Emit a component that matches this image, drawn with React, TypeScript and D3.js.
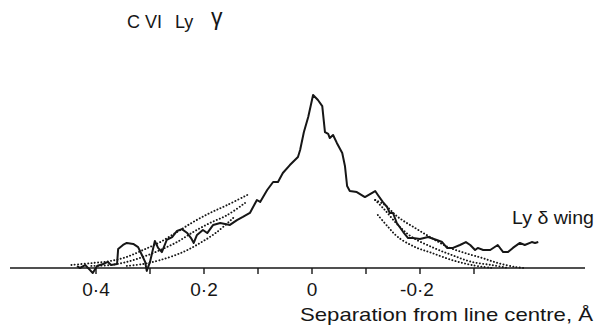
import React from "react";
import * as d3 from "d3";

// Separation from line centre (Å, positive to the left) and relative intensity
const traceSep = [0.435,0.430,0.420,0.411,0.406,0.398,0.387,0.378,0.372,0.361,0.359,0.350,0.343,0.331,0.322,0.315,0.309,0.306,0.300,0.291,0.285,0.278,0.269,0.259,0.250,0.241,0.231,0.224,0.219,0.213,0.202,0.194,0.183,0.170,0.152,0.139,0.128,0.115,0.102,0.096,0.083,0.072,0.063,0.054,0.041,0.026,0.022,0.015,0.007,-0.002,-0.011,-0.019,-0.024,-0.030,-0.033,-0.039,-0.046,-0.056,-0.061,-0.065,-0.070,-0.083,-0.098,-0.117,-0.122,-0.131,-0.139,-0.144,-0.150,-0.157,-0.169,-0.178,-0.187,-0.200,-0.215,-0.231,-0.241,-0.250,-0.261,-0.274,-0.285,-0.293,-0.302,-0.307,-0.317,-0.330,-0.344,-0.354,-0.363,-0.372,-0.385,-0.394,-0.407,-0.413,-0.419];
const traceInt = [0.012,0.000,0.017,-0.012,-0.029,0.012,0.023,0.035,0.017,0.023,0.110,0.133,0.145,0.139,0.121,0.075,0.035,-0.017,0.035,0.156,0.116,0.092,0.162,0.179,0.214,0.225,0.202,0.173,0.145,0.191,0.220,0.202,0.249,0.260,0.249,0.277,0.295,0.318,0.393,0.382,0.451,0.497,0.497,0.549,0.595,0.642,0.682,0.786,0.873,1.000,0.971,0.936,0.786,0.775,0.751,0.769,0.723,0.665,0.590,0.474,0.445,0.439,0.410,0.445,0.422,0.382,0.353,0.318,0.318,0.260,0.208,0.173,0.173,0.168,0.179,0.162,0.150,0.116,0.116,0.133,0.150,0.133,0.104,0.116,0.104,0.104,0.133,0.092,0.092,0.116,0.145,0.133,0.150,0.145,0.150];

// Fitted profiles (dotted), blue wing
const fitLeftUpperSep = [0.120,0.157,0.189,0.220,0.250,0.281,0.313,0.343,0.374,0.406,0.448];
const fitLeftUpperInt = [0.422,0.364,0.318,0.266,0.208,0.150,0.104,0.064,0.040,0.029,0.017];
const fitLeftMidSep = [0.124,0.157,0.189,0.220,0.250,0.281,0.313,0.343,0.374,0.411];
const fitLeftMidInt = [0.376,0.306,0.260,0.208,0.150,0.104,0.064,0.035,0.017,0.012];
const fitLeftLowSep = [0.146,0.176,0.207,0.239,0.281,0.313,0.343];
const fitLeftLowInt = [0.289,0.208,0.145,0.092,0.046,0.023,0.012];
// Fitted profiles (dotted), red wing
const fitRightUpperSep = [-0.117,-0.135,-0.159,-0.191,-0.222,-0.252,-0.283,-0.315,-0.344,-0.376,-0.394];
const fitRightUpperInt = [0.393,0.364,0.295,0.231,0.173,0.121,0.087,0.058,0.029,0.006,0.000];
const fitRightMidSep = [-0.117,-0.135,-0.159,-0.185,-0.222,-0.259,-0.296,-0.333,-0.363];
const fitRightMidInt = [0.393,0.335,0.249,0.179,0.121,0.075,0.035,0.017,0.000];
const fitRightLowSep = [-0.122,-0.141,-0.159,-0.191,-0.222,-0.259,-0.296,-0.333];
const fitRightLowInt = [0.306,0.237,0.179,0.121,0.087,0.046,0.017,0.000];

const tickValues = [0.4, 0.3, 0.2, 0.1, 0, -0.1, -0.2, -0.3];
const labelledTicks = [0.4, 0.2, 0, -0.2];
const tickLabels = ["0·4", "0·2", "0", "-0·2"];

const W = 602;
const H = 334;
const FONT = "'Liberation Sans', 'DejaVu Sans', sans-serif";

export default function App() {
  const x = d3.scaleLinear().domain([0.4, -0.3]).range([96, 474]);
  const y = d3.scaleLinear().domain([0, 1]).range([268, 95]);

  const toPts = (xs: number[], ys: number[]) => xs.map((v, i) => [v, ys[i]] as [number, number]);
  const line = d3.line<[number, number]>().x((d) => x(d[0])).y((d) => y(d[1]));
  const smooth = d3
    .line<[number, number]>()
    .x((d) => x(d[0]))
    .y((d) => y(d[1]))
    .curve(d3.curveCatmullRom);

  const fits = [
    toPts(fitLeftUpperSep, fitLeftUpperInt),
    toPts(fitLeftMidSep, fitLeftMidInt),
    toPts(fitLeftLowSep, fitLeftLowInt),
    toPts(fitRightUpperSep, fitRightUpperInt),
    toPts(fitRightMidSep, fitRightMidInt),
    toPts(fitRightLowSep, fitRightLowInt),
  ];

  const y0 = y(0);
  const ink = "#161616";

  return (
    <svg
      width={W}
      height={H}
      style={{ position: "absolute", left: 0, top: 0, background: "#fff" }}
      fontFamily={FONT}
    >
      <rect width={W} height={H} fill="#fff" />
      {/* title */}
      <text y={28} fontSize={18} fill={ink}>
        <tspan x={127}>C VI</tspan>
        <tspan x={175}>Ly</tspan>
      </text>
      <text x={211} y={25} fontSize={23} fill={ink}>
        γ
      </text>

      {/* axis */}
      <line x1={10} x2={585} y1={y0} y2={y0} stroke={ink} strokeWidth={1.6} />
      {tickValues.map((t) => (
        <line key={t} x1={x(t)} x2={x(t)} y1={y0} y2={y0 + 6} stroke={ink} strokeWidth={1.4} />
      ))}
      {labelledTicks.map((t, i) => (
        <text key={t} x={x(t) + (t < 0 ? -3 : 0)} y={296} fontSize={19} textAnchor="middle" fill={ink}>
          {tickLabels[i]}
        </text>
      ))}
      <text x={300} y={321} fontSize={19} fill={ink} textLength={293} lengthAdjust="spacingAndGlyphs">
        Separation from line centre, Å
      </text>

      {/* fitted profiles */}
      {fits.map((f, i) => (
        <path
          key={i}
          d={smooth(f) || ""}
          fill="none"
          stroke={ink}
          strokeWidth={1.9}
          strokeDasharray="0.1 3.2"
          strokeLinecap="round"
        />
      ))}

      {/* measured trace */}
      <path
        d={line(toPts(traceSep, traceInt)) || ""}
        fill="none"
        stroke={ink}
        strokeWidth={2}
        strokeLinejoin="round"
      />

      <text x={512} y={224} fontSize={19} fill={ink} textLength={82} lengthAdjust="spacingAndGlyphs">
        Ly δ wing
      </text>
    </svg>
  );
}
